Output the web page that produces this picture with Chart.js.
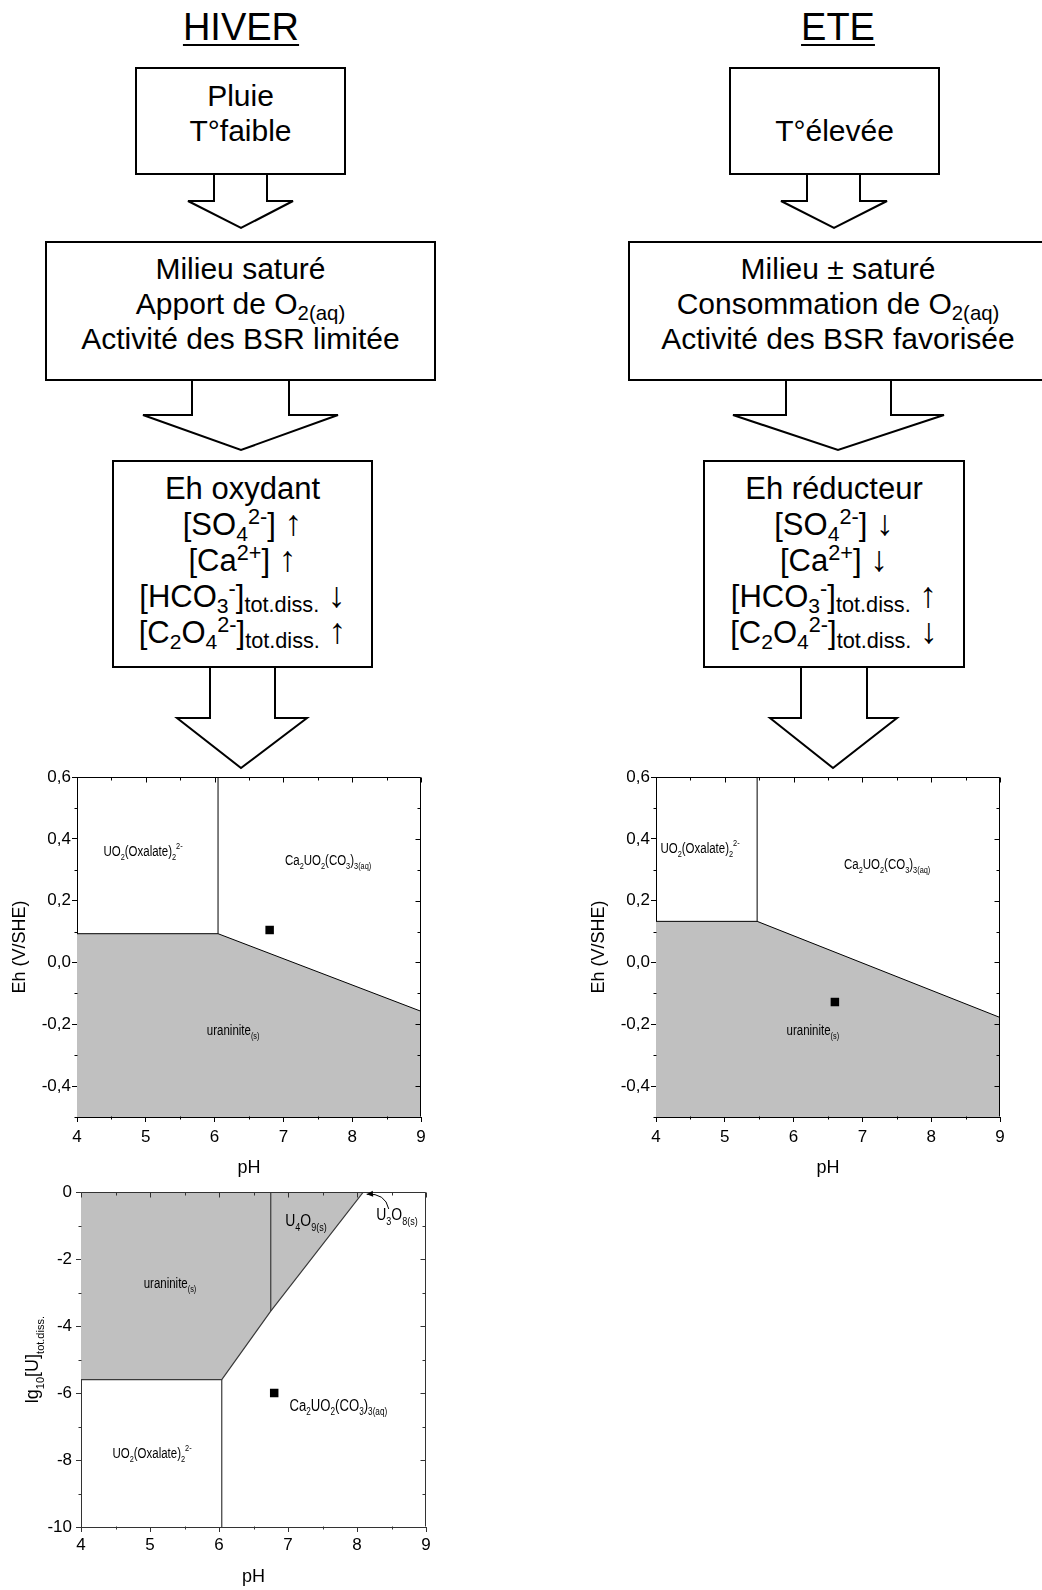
<!DOCTYPE html>
<html>
<head>
<meta charset="utf-8">
<script src="https://cdn.jsdelivr.net/npm/chart.js@4.4.1/dist/chart.umd.min.js"></script>
<style>
html, body { margin: 0; padding: 0; background: #fff; }
#page { position: relative; width: 1042px; height: 1590px; overflow: hidden; font-family: Arial, 'Liberation Sans', sans-serif; color: #000; }
.title { position: absolute; top: 6px; font-size: 38px; text-decoration: underline; text-decoration-thickness: 2px; text-underline-offset: 4px; transform: translateX(-50%); white-space: nowrap; }
.box { position: absolute; border: 2px solid #000; box-sizing: border-box; background: #fff; font-size: 30px; text-align: center; }
.box div { white-space: nowrap; height: 35px; line-height: 35px; }
.box.tight div { height: 36px; line-height: 36px; font-size: 31px; }
sub { font-size: 0.68em; line-height: 0; vertical-align: -0.28em; }
sup { font-size: 0.7em; line-height: 0; vertical-align: 0.5em; }
sub.t { font-size: 0.7em; vertical-align: -0.22em; }
.arr { font-size: 1.15em; line-height: 0; }
svg { position: absolute; left: 0; top: 0; }
canvas { position: absolute; }
</style>
</head>
<body>
<div id="page">
  <svg width="1042" height="800">
    <g fill="#fff" stroke="#000" stroke-width="2" stroke-linejoin="miter">
      <polyline points="214,172 214,201 188,201 241,228 293,201 267,201 267,172"/>
      <polyline points="807,172 807,201 781,201 834,228 887,201 860,201 860,172"/>
      <polyline points="192,378 192,415 143,415 241,450 338,415 289,415 289,378"/>
      <polyline points="786,378 786,415 733,415 838,450 944,415 891,415 891,378"/>
      <polyline points="210,665 210,718 177,718 241,768 307,718 275,718 275,665"/>
      <polyline points="801,665 801,718 770,718 833,768 897,718 867,718 867,665"/>
    </g>
  </svg>

  <div class="title" style="left:241px">HIVER</div>
  <div class="title" style="left:838px">ETE</div>

  <div class="box" style="left:135px;top:67px;width:211px;height:108px;padding-top:9px">
    <div>Pluie</div>
    <div>T°faible</div>
  </div>
  <div class="box" style="left:729px;top:67px;width:211px;height:108px;padding-top:44px">
    <div>T°élevée</div>
  </div>

  <div class="box" style="left:45px;top:241px;width:391px;height:140px;padding-top:8px">
    <div>Milieu saturé</div>
    <div>Apport de O<sub>2(aq)</sub></div>
    <div>Activité des BSR limitée</div>
  </div>
  <div class="box" style="left:628px;top:241px;width:420px;height:140px;padding-top:8px">
    <div>Milieu ± saturé</div>
    <div>Consommation de O<sub>2(aq)</sub></div>
    <div>Activité des BSR favorisée</div>
  </div>

  <div class="box tight" style="left:112px;top:460px;width:261px;height:208px;padding-top:9px">
    <div>Eh oxydant</div>
    <div>[SO<sub>4</sub><sup>2-</sup>] <span class="arr">↑</span></div>
    <div>[Ca<sup>2+</sup>] <span class="arr">↑</span></div>
    <div>[HCO<sub>3</sub><sup>-</sup>]<sub class="t">tot.diss.</sub> <span class="arr">↓</span></div>
    <div>[C<sub>2</sub>O<sub>4</sub><sup>2-</sup>]<sub class="t">tot.diss.</sub> <span class="arr">↑</span></div>
  </div>
  <div class="box tight" style="left:703px;top:460px;width:262px;height:208px;padding-top:9px">
    <div>Eh réducteur</div>
    <div>[SO<sub>4</sub><sup>2-</sup>] <span class="arr">↓</span></div>
    <div>[Ca<sup>2+</sup>] <span class="arr">↓</span></div>
    <div>[HCO<sub>3</sub><sup>-</sup>]<sub class="t">tot.diss.</sub> <span class="arr">↑</span></div>
    <div>[C<sub>2</sub>O<sub>4</sub><sup>2-</sup>]<sub class="t">tot.diss.</sub> <span class="arr">↓</span></div>
  </div>

  <canvas id="chart-hiver" width="440" height="420" style="left:0;top:760px"></canvas>
  <canvas id="chart-ete" width="440" height="420" style="left:580px;top:760px"></canvas>
  <canvas id="chart-sol" width="445" height="412" style="left:0;top:1178px"></canvas>
</div>

<script>
// axes
const phTicks = [4, 5, 6, 7, 8, 9];
const phMinor = [4.5, 5.5, 6.5, 7.5, 8.5];
const ehTicks = [-0.4, -0.2, 0, 0.2, 0.4, 0.6];
const ehTickLabels = ['-0,4', '-0,2', '0,0', '0,2', '0,4', '0,6'];
const ehMinor = [-0.5, -0.3, -0.1, 0.1, 0.3, 0.5];
const luTicks = [-10, -8, -6, -4, -2, 0];
const luMinor = [-9, -7, -5, -3, -1];

// HIVER Eh-pH diagram
const hiverUraniniteEdge = [{x: 4, y: 0.093}, {x: 6.05, y: 0.093}, {x: 9, y: -0.158}];
const hiverOxalateEdge = [{x: 6.05, y: 0.093}, {x: 6.05, y: 0.6}];
const hiverSample = [{x: 6.8, y: 0.105}];
const hiverLabelAt = [{x: 4.96, y: 0.36}, {x: 7.65, y: 0.33}, {x: 6.27, y: -0.22}];

// ETE Eh-pH diagram
const eteUraniniteEdge = [{x: 4, y: 0.133}, {x: 5.47, y: 0.133}, {x: 9, y: -0.178}];
const eteOxalateEdge = [{x: 5.47, y: 0.133}, {x: 5.47, y: 0.6}];
const eteSample = [{x: 6.6, y: -0.128}];
const eteLabelAt = [{x: 4.64, y: 0.37}, {x: 7.36, y: 0.32}, {x: 6.28, y: -0.22}];

// HIVER lg[U]-pH diagram
const solidEdge = [{x: 4, y: -5.6}, {x: 6.04, y: -5.6}, {x: 6.75, y: -3.55}, {x: 8.09, y: 0}];
const u4o9Edge = [{x: 6.75, y: -3.55}, {x: 6.75, y: 0}];
const oxalateEdge = [{x: 6.04, y: -10}, {x: 6.04, y: -5.6}];
const solSample = [{x: 6.8, y: -6.0}];
const solLabelAt = [{x: 5.29, y: -2.7}, {x: 7.26, y: -0.82}, {x: 8.58, y: -0.66}, {x: 7.73, y: -6.35}, {x: 5.03, y: -7.8}];
const u3o8Pointer = [{x: 8.46, y: -0.5}, {x: 8.41, y: -0.02}, {x: 8.14, y: -0.06}];

// species names (text, sub/sup)
const oxalateName = [['UO'], ['2', 'sub'], ['(Oxalate)'], ['2', 'sub'], ['2-', 'sup']];
const carbonateName = [['Ca'], ['2', 'sub'], ['UO'], ['2', 'sub'], ['(CO'], ['3', 'sub'], [')'], ['3(aq)', 'sub']];
const uraniniteName = [['uraninite'], ['(s)', 'sub']];
const u4o9Name = [['U'], ['4', 'sub'], ['O'], ['9(s)', 'sub']];
const u3o8Name = [['U'], ['3', 'sub'], ['O'], ['8(s)', 'sub']];
const solYTitle = [['lg'], ['10', 'sub'], ['[U]'], ['tot.diss.', 'sub']];

const FAMILY = "Arial, 'Liberation Sans', sans-serif";
Chart.defaults.font.family = FAMILY;
Chart.defaults.color = '#000';
Chart.defaults.animation = false;

function drawRich(ctx, parts, cx, cy, size, squeeze) {
    const small = Math.round(size * 0.62);
    const pieces = parts.map(([t, kind]) => {
        const fs = kind ? small : size;
        ctx.font = fs + 'px ' + FAMILY;
        return { t, kind, fs, w: ctx.measureText(t).width * squeeze };
    });
    const total = pieces.reduce((s, p) => s + p.w, 0);
    let px = cx - total / 2;
    const base = cy + size * 0.36;
    ctx.textAlign = 'left';
    ctx.textBaseline = 'alphabetic';
    pieces.forEach(p => {
        ctx.font = p.fs + 'px ' + FAMILY;
        let by = base;
        if (p.kind === 'sub') by += size * 0.28;
        if (p.kind === 'sup') by -= size * 0.52;
        ctx.save(); ctx.translate(px, by); ctx.scale(squeeze, 1); ctx.fillText(p.t, 0, 0); ctx.restore();
        px += p.w;
    });
}

// frame, minor ticks, mirrored ticks, region names
const framePlugin = {
    id: 'frame',
    afterDatasetsDraw(chart, args, o) {
        const { ctx, chartArea: a, scales: { x, y } } = chart;
        const L = Math.round(a.left) + 0.5, R = Math.round(a.right) - 0.5;
        const T = Math.round(a.top) + 0.5, B = Math.round(a.bottom) - 0.5;
        ctx.save();
        ctx.strokeStyle = o.color;
        ctx.lineWidth = 1;
        ctx.beginPath();
        ctx.moveTo(L, T); ctx.lineTo(R, T); ctx.lineTo(R, B);
        o.majorX.forEach(v => { const p = Math.round(x.getPixelForValue(v)) + 0.5; ctx.moveTo(p, T); ctx.lineTo(p, T + 5); });
        o.minorX.forEach(v => { const p = Math.round(x.getPixelForValue(v)) + 0.5; ctx.moveTo(p, T); ctx.lineTo(p, T + 3); ctx.moveTo(p, B); ctx.lineTo(p, B + 3); });
        o.majorY.forEach(v => { const p = Math.round(y.getPixelForValue(v)) + 0.5; ctx.moveTo(R, p); ctx.lineTo(R - 5, p); });
        o.minorY.forEach(v => { const p = Math.round(y.getPixelForValue(v)) + 0.5; ctx.moveTo(R, p); ctx.lineTo(R - 3, p); ctx.moveTo(L, p); ctx.lineTo(L - 3, p); });
        ctx.stroke();

        ctx.fillStyle = '#000';
        o.labels.forEach((parts, i) => {
            const at = o.labelAt[i];
            drawRich(ctx, parts, x.getPixelForValue(at.x), y.getPixelForValue(at.y), o.sizes[i], 0.82);
        });

        if (o.pointer) {
            const [p0, p1, p2] = o.pointer.map(p => ({ x: x.getPixelForValue(p.x), y: y.getPixelForValue(p.y) }));
            ctx.strokeStyle = '#000';
            ctx.beginPath(); ctx.moveTo(p0.x, p0.y); ctx.quadraticCurveTo(p1.x, p1.y, p2.x, p2.y); ctx.stroke();
            const ang = Math.atan2(p2.y - p1.y, p2.x - p1.x);
            ctx.beginPath();
            ctx.moveTo(p2.x, p2.y);
            ctx.lineTo(p2.x - 7 * Math.cos(ang - 0.45), p2.y - 7 * Math.sin(ang - 0.45));
            ctx.lineTo(p2.x - 7 * Math.cos(ang + 0.45), p2.y - 7 * Math.sin(ang + 0.45));
            ctx.closePath(); ctx.fill();
        }

        if (o.yTitle) {
            ctx.translate(o.yTitleX, (a.top + a.bottom) / 2);
            ctx.rotate(-Math.PI / 2);
            drawRich(ctx, o.yTitle, 0, 0, 18, 1);
        }
        ctx.restore();
    }
};

function xAxis(color, tickPad, titlePad) {
    return {
        type: 'linear', position: 'bottom', min: 4, max: 9,
        afterBuildTicks: s => { s.ticks = phTicks.map(v => ({ value: v })); },
        afterFit: s => { s.height = 63; },
        ticks: { font: { size: 17 }, padding: tickPad, maxRotation: 0, autoSkip: false, callback: (v, i) => String(phTicks[i]) },
        grid: { drawOnChartArea: false, drawTicks: true, tickLength: 5, color: color },
        border: { color: color, width: 1 },
        title: { display: true, text: 'pH', font: { size: 18 }, padding: { top: 0, bottom: titlePad } }
    };
}

function ehAxis(width, tickPad, titlePad) {
    return {
        type: 'linear', min: -0.5, max: 0.6,
        afterBuildTicks: s => { s.ticks = ehTicks.map(v => ({ value: v })); },
        afterFit: s => { s.width = width; },
        ticks: { font: { size: 17 }, padding: tickPad, autoSkip: false, callback: (v, i) => ehTickLabels[i] },
        grid: { drawOnChartArea: false, drawTicks: true, tickLength: 5, color: '#000' },
        border: { color: '#000', width: 1 },
        title: { display: true, text: 'Eh (V/SHE)', font: { size: 18 }, padding: { top: titlePad, bottom: 0 } }
    };
}

function line(data, opts) {
    return Object.assign({ data, borderColor: '#000', borderWidth: 1, pointRadius: 0, tension: 0, fill: false }, opts || {});
}

function sampleSet(data) {
    return { data, showLine: false, pointStyle: 'rect', pointRadius: 6, pointBorderWidth: 0, pointBackgroundColor: '#000', borderColor: '#000' };
}

// Chart.js paints the first dataset last, so the shaded domain goes at the end of the list
function ehChart(id, edge, vline, sample, labelAt, padRight, yWidth, titlePad) {
    return new Chart(document.getElementById(id), {
        type: 'line',
        data: {
            datasets: [
                sampleSet(sample),
                line(vline),
                line(edge, { fill: 'start', backgroundColor: '#c0c0c0' })
            ]
        },
        options: {
            responsive: false,
            layout: { padding: { top: 17, right: padRight, left: 0, bottom: 0 } },
            plugins: {
                legend: { display: false }, tooltip: { enabled: false },
                frame: {
                    color: '#000', majorX: phTicks, minorX: phMinor, majorY: ehTicks, minorY: ehMinor,
                    labels: [oxalateName, carbonateName, uraniniteName], labelAt: labelAt, sizes: [14, 14, 14]
                }
            },
            scales: { x: xAxis('#000', 5, 1), y: ehAxis(yWidth, 1, titlePad) }
        },
        plugins: [framePlugin]
    });
}

ehChart('chart-hiver', hiverUraniniteEdge, hiverOxalateEdge, hiverSample, hiverLabelAt, 19, 77, 9);
ehChart('chart-ete', eteUraniniteEdge, eteOxalateEdge, eteSample, eteLabelAt, 20, 76, 8);

new Chart(document.getElementById('chart-sol'), {
    type: 'line',
    data: {
        datasets: [
            sampleSet(solSample),
            line(u4o9Edge, { borderColor: '#3a3a3a', borderWidth: 1.2 }),
            line(oxalateEdge, { borderColor: '#3a3a3a', borderWidth: 1.2 }),
            line(solidEdge, { fill: 'end', backgroundColor: '#c0c0c0', borderColor: '#3a3a3a', borderWidth: 1.2 })
        ]
    },
    options: {
        responsive: false,
        layout: { padding: { top: 8, right: 19, left: 0, bottom: 0 } },
        plugins: {
            legend: { display: false }, tooltip: { enabled: false },
            frame: {
                color: '#333', majorX: phTicks, minorX: phMinor, majorY: luTicks, minorY: luMinor,
                labels: [uraniniteName, u4o9Name, u3o8Name, carbonateName, oxalateName],
                labelAt: solLabelAt, sizes: [14, 17, 17, 16, 14],
                pointer: u3o8Pointer, yTitle: solYTitle, yTitleX: 32
            }
        },
        scales: {
            x: xAxis('#333', 3, 2),
            y: {
                type: 'linear', min: -10, max: 0,
                afterBuildTicks: s => { s.ticks = luTicks.map(v => ({ value: v })); },
                afterFit: s => { s.width = 81; },
                ticks: { font: { size: 17 }, padding: 4, autoSkip: false, callback: (v, i) => String(luTicks[i]) },
                grid: { drawOnChartArea: false, drawTicks: true, tickLength: 5, color: '#333' },
                border: { color: '#333', width: 1 }
            }
        }
    },
    plugins: [framePlugin]
});
</script>
</body>
</html>
